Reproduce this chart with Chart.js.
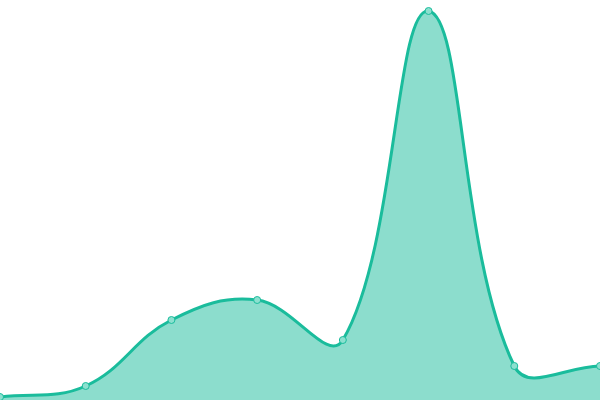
<!DOCTYPE html>
<html>
<head>
<meta charset="utf-8">
<script src="https://cdn.jsdelivr.net/npm/chart.js@4/dist/chart.umd.min.js"></script>
<style>
  html, body { margin: 0; padding: 0; background: #fff; }
  #wrap { width: 600px; height: 400px; }
</style>
</head>
<body>
<div id="wrap"><canvas id="chart" width="600" height="400"></canvas></div>
<script>
// Categories and values (axis is hidden).
const labels = ['1', '2', '3', '4', '5', '6', '7', '8'];
const values = [3, 14, 80, 100, 60, 389, 34, 34];
const yMin = 0;
const yMax = 400;

const ctx = document.getElementById('chart').getContext('2d');
new Chart(ctx, {
  type: 'line',
  data: {
    labels: labels,
    datasets: [{
      data: values,
      borderColor: '#1abc9c',
      backgroundColor: 'rgba(26, 188, 156, 0.5)',
      borderWidth: 3,
      fill: true,
      tension: 0.4,
      pointRadius: 3.5,
      pointBorderWidth: 1,
      pointBackgroundColor: '#8ce0cf',
      pointBorderColor: '#1abc9c'
    }]
  },
  options: {
    responsive: false,
    animation: false,
    layout: { padding: 0, autoPadding: false },
    plugins: {
      legend: { display: false },
      tooltip: { enabled: false }
    },
    scales: {
      x: { display: false },
      y: { display: false, min: yMin, max: yMax }
    }
  }
});
</script>
</body>
</html>
